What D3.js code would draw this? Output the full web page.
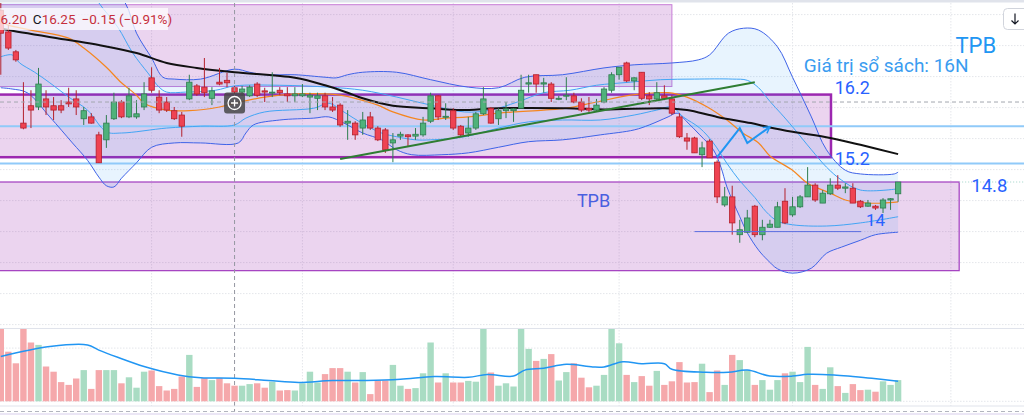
<!DOCTYPE html>
<html>
<head>
<meta charset="utf-8">
<script src="https://cdn.jsdelivr.net/npm/d3@7"></script>
<style>
  html, body { margin: 0; padding: 0; background: #fff; overflow: hidden }
  svg { display: block; font-family: Roboto, 'Noto Sans', sans-serif }
</style>
</head>
<body>
<svg id="chart" width="1024" height="415"></svg>
<script>
// daily candles (index 0 = first visible bar)
const open = [
  17.57, 17.22, 16.90, 15.75, 16.03, 16.01, 16.14, 16.03, 16.03, 16.09,
  16.14, 15.82, 15.85, 15.56, 15.48, 15.82, 16.09, 15.85, 15.85, 16.01,
  16.48, 16.17, 16.09, 15.95, 15.88, 16.14, 16.35, 16.33, 16.15, 16.41,
  16.44, 16.32, 16.25, 16.19, 16.38, 16.27, 16.24, 16.28, 16.22, 16.19,
  16.19, 16.17, 16.15, 16.19, 16.01, 16.04, 15.75, 15.75, 15.67, 15.85,
  15.67, 15.64, 15.43, 15.54, 15.56, 15.54, 15.56, 15.78, 16.19, 15.85,
  15.95, 15.70, 15.59, 15.67, 15.90, 15.99, 15.82, 15.95, 15.95, 15.99,
  16.38, 16.53, 16.38, 16.38, 16.14, 16.19, 16.19, 16.09, 15.99, 15.96,
  16.09, 16.28, 16.53, 16.72, 16.43, 16.57, 16.19, 16.14, 16.19, 16.14,
  15.85, 15.51, 15.51, 15.24, 15.46, 15.12, 14.43, 14.56, 13.95, 13.99,
  14.41, 13.95, 14.07, 14.07, 14.49, 14.27, 14.40, 14.56, 14.75, 14.46,
  14.61, 14.75, 14.70, 14.70, 14.49, 14.41, 14.41, 14.38, 14.51, 14.61
]
const high = [
  17.69, 17.33, 16.93, 16.41, 16.28, 16.64, 16.28, 16.17, 16.12, 16.32,
  16.28, 16.01, 15.91, 15.61, 15.88, 16.24, 16.12, 16.32, 16.12, 16.41,
  16.65, 16.28, 16.17, 16.01, 15.93, 16.53, 16.38, 16.80, 16.33, 16.64,
  16.56, 16.35, 16.35, 16.36, 16.41, 16.32, 16.57, 16.33, 16.33, 16.33,
  16.38, 16.24, 16.24, 16.24, 16.17, 16.07, 15.96, 15.78, 15.93, 15.93,
  15.70, 15.67, 15.59, 15.61, 15.57, 15.67, 15.85, 16.24, 16.20, 16.07,
  15.99, 15.72, 15.85, 15.93, 16.33, 16.01, 15.99, 16.09, 15.99, 16.53,
  16.53, 16.53, 16.48, 16.41, 16.19, 16.49, 16.24, 16.15, 16.17, 16.14,
  16.33, 16.57, 16.65, 16.74, 16.49, 16.57, 16.25, 16.41, 16.36, 16.20,
  15.91, 15.59, 15.53, 15.45, 15.49, 15.15, 14.72, 14.74, 14.19, 14.35,
  14.43, 14.19, 14.19, 14.48, 14.70, 14.56, 14.59, 15.04, 14.78, 14.67,
  14.86, 14.91, 14.78, 14.78, 14.51, 14.51, 14.43, 14.54, 14.54, 14.80
]
const low = [
  16.53, 16.93, 16.74, 15.65, 15.67, 15.96, 15.88, 15.80, 15.91, 16.01,
  15.88, 15.72, 15.74, 15.11, 15.35, 15.80, 15.83, 15.83, 15.82, 15.96,
  16.24, 15.91, 15.93, 15.80, 15.53, 16.12, 16.19, 16.17, 16.04, 16.36,
  16.33, 16.20, 16.19, 16.17, 16.17, 16.09, 16.17, 16.20, 16.09, 16.09,
  16.17, 15.91, 15.96, 15.96, 15.93, 15.69, 15.48, 15.48, 15.56, 15.64,
  15.46, 15.27, 15.12, 15.48, 15.38, 15.48, 15.53, 15.75, 15.80, 15.80,
  15.64, 15.53, 15.53, 15.64, 15.88, 15.74, 15.72, 15.83, 15.77, 15.99,
  16.24, 16.24, 16.24, 16.09, 16.12, 16.12, 16.07, 15.93, 15.93, 15.93,
  16.07, 16.24, 16.45, 16.41, 16.28, 16.12, 16.04, 16.12, 16.12, 15.88,
  15.51, 15.32, 15.27, 15.04, 15.19, 14.46, 14.40, 13.95, 13.82, 13.98,
  13.91, 13.86, 14.06, 14.07, 14.12, 14.24, 14.38, 14.56, 14.48, 14.46,
  14.59, 14.67, 14.62, 14.46, 14.38, 14.40, 14.35, 14.30, 14.35, 14.48
]
const close = [
  17.20, 16.96, 16.77, 15.67, 15.96, 16.38, 16.01, 15.96, 15.96, 16.06,
  16.01, 15.95, 15.75, 15.11, 15.75, 16.09, 15.85, 16.19, 15.90, 16.22,
  16.28, 15.96, 15.96, 15.82, 15.70, 16.41, 16.22, 16.24, 16.27, 16.38,
  16.40, 16.25, 16.30, 16.33, 16.20, 16.25, 16.25, 16.24, 16.19, 16.22,
  16.22, 16.20, 16.19, 16.01, 15.96, 15.72, 15.78, 15.56, 15.80, 15.67,
  15.48, 15.32, 15.48, 15.57, 15.53, 15.57, 15.75, 16.19, 15.85, 15.86,
  15.67, 15.56, 15.67, 15.90, 16.14, 15.75, 15.95, 15.98, 15.98, 16.28,
  16.40, 16.38, 16.40, 16.15, 16.15, 16.20, 16.09, 15.96, 15.96, 16.04,
  16.30, 16.53, 16.65, 16.43, 16.48, 16.15, 16.14, 16.24, 16.15, 15.91,
  15.53, 15.46, 15.27, 15.35, 15.19, 14.56, 14.56, 14.14, 14.03, 14.22,
  13.95, 14.07, 14.12, 14.40, 14.14, 14.40, 14.56, 14.75, 14.51, 14.62,
  14.75, 14.70, 14.72, 14.46, 14.40, 14.46, 14.38, 14.51, 14.53, 14.80
]
// volume, millions of shares
const volume = [
  22, 12.4, 9.5, 19, 14.7, 14.1, 8.7, 7.4, 4.8, 4.1,
  5.7, 7.8, 3.1, 7.8, 7.8, 7.8, 4.5, 6.0, 3.4, 7.4,
  7.7, 3.8, 2.7, 3.1, 6.2, 11.6, 3.6, 5.8, 5.3, 5.8,
  4.5, 3.9, 3.9, 4.3, 4.5, 3.4, 4.9, 2.7, 2.8, 2.7,
  4.5, 7.4, 4.7, 6.8, 8.3, 8.3, 7.4, 4.7, 7.3, 1.8,
  5.2, 5.2, 9.1, 3.9, 3.1, 3.3, 7.0, 14.7, 4.7, 7.0,
  4.7, 4.7, 5.1, 4.9, 20, 7.2, 3.9, 4.5, 3.7, 21,
  13.1, 10.1, 10.6, 11.8, 5.2, 7.3, 9.5, 5.9, 3.5, 3.9,
  6.6, 20, 14.5, 6.6, 4.8, 6.3, 3.9, 7.6, 4.1, 5.0,
  9.8, 4.7, 4.8, 9.4, 2.3, 7.7, 4.1, 11.6, 10.3, 7.8,
  4.1, 5.3, 2.9, 5.3, 7.0, 7.4, 4.8, 13.6, 4.1, 3.1,
  8.5, 3.8, 2.1, 4.3, 2.8, 2.9, 2.4, 5.0, 4.1, 5.3
]

// indicator lines as [bar index, value]
const volumeMa = [
  [0, 11.2], [6.5, 13.7], [11.5, 14.1], [13, 12.8], [15.5, 11.0], [19, 8.7], [23.5, 6.6],
  [26.5, 5.9], [31, 5.75], [35.5, 5.2], [39.5, 4.7], [44, 5.2], [48.5, 5.2], [53, 5.5],
  [57.5, 6.2], [62, 6.0], [64.5, 6.7], [68, 6.3], [69.5, 7.8], [72, 8.25], [75, 9.25],
  [78.5, 8.6], [80, 8.6], [82.5, 9.9], [85, 9.4], [88, 9.4], [89, 8.0], [93.5, 7.25],
  [96.5, 7.25], [99, 7.8], [102, 6.3], [105, 6.3], [107, 6.75], [110.5, 6.6], [113, 6.2],
  [115.5, 5.75], [119, 5.0]
]
const maSlow = [
  [0, 17.28], [1, 17.25], [9, 17.09], [13, 17.01], [18, 16.88], [22, 16.72], [26, 16.64],
  [31, 16.57], [39, 16.48], [43, 16.36], [46, 16.24], [48, 16.15], [52, 16.03], [57, 15.99],
  [61, 15.96], [66, 15.99], [75, 15.99], [80, 15.97], [88, 15.99], [91, 15.96], [95, 15.85],
  [99.5, 15.75], [102, 15.68], [105, 15.61], [110, 15.51], [114, 15.40], [119, 15.25]
]
const maFast = [
  [0, 17.38], [1, 17.33], [4, 17.25], [9, 17.12], [11, 16.96], [14, 16.65], [16, 16.40],
  [18, 16.20], [19, 16.07], [22, 15.96], [25, 15.95], [29, 16.01], [31, 16.07], [35, 16.17],
  [39, 16.22], [43, 16.22], [45, 16.20], [47, 16.15], [50, 16.04], [52, 15.93], [56, 15.80],
  [59, 15.83], [62, 15.85], [66, 15.91], [68, 15.93], [72, 15.96], [75, 15.99], [79, 16.09],
  [83.5, 16.20], [88.5, 16.24], [91, 16.17], [93.7, 16.01], [96.3, 15.80], [98.4, 15.59],
  [100.5, 15.43], [102, 15.22], [105, 14.99], [107, 14.78], [110, 14.62], [112, 14.51],
  [115, 14.46], [117, 14.46], [119, 14.48]
]
const bandUpperOuter = [
  [13, 18.2], [16.5, 17.69], [18, 17.20], [20, 16.80], [21.5, 16.49], [23, 16.46],
  [26.5, 16.46], [31, 16.62], [33, 16.57], [35, 16.53], [39, 16.53], [43, 16.49],
  [44.5, 16.48], [46, 16.53], [48, 16.57], [52.5, 16.57], [57, 16.45], [62, 16.33],
  [66, 16.32], [69.5, 16.49], [74.5, 16.53], [80, 16.64], [84, 16.69], [89, 16.72],
  [92.5, 16.77], [94, 16.85], [96.5, 17.20], [98.5, 17.28], [100.5, 17.25], [103, 16.98],
  [105, 16.49], [107.5, 15.85], [109.5, 15.32], [112, 14.99], [114, 14.93], [118.5, 14.93],
  [119, 14.96]
]
const bandUpperInner = [
  [11, 18.1], [13, 17.69], [15.5, 17.30], [17.5, 16.88], [19.5, 16.56], [21, 16.33],
  [22, 16.25], [24.5, 16.25], [28.5, 16.28], [31, 16.35], [37, 16.36], [43.5, 16.33],
  [48, 16.28], [52.5, 16.17], [57, 16.04], [61.5, 15.93], [65, 15.96], [68.5, 16.09],
  [72, 16.24], [75.5, 16.28], [79, 16.36], [83.5, 16.41], [87.5, 16.45], [92, 16.46],
  [97, 16.46], [99, 16.44], [100.5, 16.32], [102, 16.10], [103.5, 15.90], [105, 15.69],
  [107.5, 15.32], [109.5, 15.04], [111.5, 14.83], [114, 14.67], [119, 14.69]
]
const bandLowerInner = [
  [0, 16.82], [1.5, 16.85], [2.5, 16.72], [4.5, 16.57], [6.5, 16.40], [9, 16.17],
  [11.5, 15.96], [14, 15.61], [16, 15.59], [22, 15.67], [26.5, 15.70], [31, 15.72],
  [32.5, 15.83], [35, 15.93], [41.5, 15.99], [43.5, 16.07], [45.5, 15.93], [48, 15.74],
  [50.5, 15.59], [52.5, 15.53], [55, 15.48], [57, 15.48], [61.5, 15.53], [66, 15.67],
  [70, 15.77], [74.5, 15.80], [79.5, 15.80], [84, 15.88], [87, 15.96], [89, 16.01],
  [90.5, 15.85], [92.7, 15.67], [94.5, 15.43], [96.3, 15.10], [98, 14.82], [100, 14.55],
  [101.5, 14.32], [103, 14.17], [105, 14.11], [109.5, 14.09], [114, 14.14], [119, 14.24]
]
const bandLowerOuter = [
  [0, 16.32], [1.5, 16.30], [3.5, 16.24], [6.5, 15.85], [9.5, 15.43], [11.5, 15.15],
  [13, 14.88], [14, 14.74], [15, 14.72], [16, 14.86], [18, 15.11], [20, 15.36],
  [23, 15.43], [26.5, 15.43], [31.5, 15.43], [32.5, 15.59], [33.5, 15.72], [37, 15.80],
  [41.5, 15.83], [43.5, 15.85], [45.5, 15.75], [48, 15.59], [50.5, 15.48], [52.5, 15.32],
  [54.5, 15.24], [58.5, 15.24], [62, 15.27], [66, 15.36], [70, 15.45], [74.5, 15.48],
  [79.5, 15.56], [84, 15.64], [86, 15.72], [88.5, 15.85], [89.7, 15.91], [91, 15.77],
  [92.7, 15.56], [94.5, 15.32], [95.5, 15.04], [96.3, 14.72], [98, 14.24], [99, 13.98],
  [100.5, 13.70], [101.7, 13.54], [103, 13.40], [105, 13.33], [107.5, 13.41], [109.5, 13.65],
  [111.5, 13.75], [114, 13.86], [116, 13.95], [119, 13.99]
]

// user drawings, in [bar index, price]
const boxes = [
  { from: [-2, 17.66], to: [89, 16.34], border: 1, stroke: '#c77dd6' },
  { from: [-2, 16.21], to: [110.1, 15.20], border: 2.5, stroke: '#9c27b0' },
  { from: [-2, 14.80], to: [127.1, 13.37], border: 1.2, stroke: '#a13bbf' }
]
const levels = [15.70, 15.10]
const trendLine = [[45, 15.17], [100, 16.41]]
const supportLine = [[92, 14.0], [114.1, 14.0]]
const zigzag = [[95, 15.20], [98, 15.67], [99, 15.43], [102, 15.69]]
const labels = [
  { text: 'TPB', at: [126.6, 16.88], size: 22, color: '#2196f3' },
  { text: 'Giá trị sổ sách: 16N', at: [106.5, 16.57], size: 19, color: '#3a9cf0' },
  { text: '16.2', at: [110.6, 16.22], size: 18, color: '#2962ff' },
  { text: '15.2', at: [110.6, 15.07], size: 18, color: '#2962ff' },
  { text: '14.8', at: [128.7, 14.64], size: 18.5, color: '#2962ff' },
  { text: '14', at: [114.75, 14.09], size: 17, color: '#2962ff' },
  { text: 'TPB', at: [76.4, 14.40], size: 18, color: '#4a5fe0' }
]
const gridBars = [20, 40, 60, 82, 105, 126]
const priceGrid = d3.range(12.5, 17.6, 0.5)
const volumeGrid = [0, 13.3]
const crosshair = { bar: 31, price: 16.09 }

const W = 1024
const H = 415
const svg = d3.select('#chart')

const x = d3.scaleLinear().domain([0, 119]).range([0.8, 898.1])
const y = d3.scaleLinear().domain([12.5, 17.5]).range([324.6, 14.6])
const yVol = d3.scaleLinear().domain([0, 18]).range([401.3, 329.3])

const defs = svg.append('defs')
defs.append('clipPath').attr('id', 'clipPrice')
  .append('rect').attr('x', 0).attr('y', 3).attr('width', W).attr('height', 325)
defs.append('clipPath').attr('id', 'clipVol')
  .append('rect').attr('x', 0).attr('y', 329).attr('width', W).attr('height', 73)
defs.append('marker').attr('id', 'arrow')
  .attr('viewBox', '0 0 10 10').attr('refX', 8).attr('refY', 5)
  .attr('markerWidth', 4.5).attr('markerHeight', 4.5).attr('orient', 'auto')
  .append('path').attr('d', 'M1,1 L8,5 L1,9')
  .attr('fill', 'none').attr('stroke', '#2196f3').attr('stroke-width', 1.6)

svg.append('rect').attr('width', W).attr('height', H).attr('fill', '#fff')

// grid
const grid = svg.append('g').attr('stroke', '#e4e6eb').attr('stroke-dasharray', '1.5,1.5')
grid.selectAll('.gx').data(gridBars).join('line')
  .attr('x1', d => x(d)).attr('x2', d => x(d)).attr('y1', 3).attr('y2', 406)
grid.selectAll('.gy').data(priceGrid).join('line')
  .attr('x1', 0).attr('x2', W).attr('y1', d => y(d)).attr('y2', d => y(d))
grid.selectAll('.gv').data(volumeGrid).join('line')
  .attr('x1', 0).attr('x2', W).attr('y1', d => yVol(d)).attr('y2', d => yVol(d))

const price = svg.append('g').attr('clip-path', 'url(#clipPrice)')

// boxes
price.selectAll('.box').data(boxes).join('rect')
  .attr('x', d => x(d.from[0])).attr('y', d => y(d.from[1]))
  .attr('width', d => x(d.to[0]) - x(d.from[0]))
  .attr('height', d => y(d.to[1]) - y(d.from[1]))
  .attr('fill', 'rgba(156,39,176,0.2)')
  .attr('stroke', d => d.stroke).attr('stroke-width', d => d.border)

// band fill
const curve = d3.curveCatmullRom.alpha(0.5)
const line = d3.line().x(d => x(d[0])).y(d => y(d[1])).curve(curve)
const upperPath = line(bandUpperOuter).slice(1)
const lowerPath = line(bandLowerOuter.slice().reverse()).slice(1)
price.append('path')
  .attr('d', `M${x(-2)},-40L${upperPath}L${lowerPath}L${x(-2)},${y(bandLowerOuter[0][1])}Z`)
  .attr('fill', 'rgba(33,150,243,0.1)')

// horizontal levels
price.selectAll('.lvl').data(levels).join('line')
  .attr('x1', 0).attr('x2', W).attr('y1', d => y(d)).attr('y2', d => y(d))
  .attr('stroke', '#90caf9').attr('stroke-width', 2)
price.append('line')
  .attr('x1', x(boxes[2].to[0])).attr('x2', W)
  .attr('y1', y(boxes[2].from[1])).attr('y2', y(boxes[2].from[1]))
  .attr('stroke', '#9fd3c7').attr('stroke-dasharray', '1,2')

// indicator lines
const series = [
  { data: bandUpperOuter, color: '#3f63e8', width: 1 },
  { data: bandLowerOuter, color: '#3f63e8', width: 1 },
  { data: bandUpperInner, color: '#42a5f5', width: 1 },
  { data: bandLowerInner, color: '#42a5f5', width: 1 },
  { data: maFast, color: '#f5861f', width: 1.2 },
  { data: maSlow, color: '#111', width: 2 }
]
price.selectAll('.ind').data(series).join('path')
  .attr('d', d => line(d.data)).attr('fill', 'none')
  .attr('stroke', d => d.color).attr('stroke-width', d => d.width)

// candles
const bars = d3.range(open.length)
const up = i => close[i] >= open[i]
const candle = price.append('g').selectAll('g').data(bars).join('g')
candle.append('line')
  .attr('x1', i => x(i)).attr('x2', i => x(i))
  .attr('y1', i => y(high[i])).attr('y2', i => y(low[i]))
  .attr('stroke', i => up(i) ? '#2f7d4f' : '#b3202c')
candle.append('rect')
  .attr('x', i => x(i) - 2.7).attr('width', 5.4)
  .attr('y', i => y(Math.max(open[i], close[i])))
  .attr('height', i => Math.max(1, Math.abs(y(open[i]) - y(close[i]))))
  .attr('fill', i => up(i) ? '#4fb27b' : '#ef4352')
  .attr('stroke', i => up(i) ? '#2f7d4f' : '#b3202c').attr('stroke-width', 0.8)

// drawings
const straight = d3.line().x(d => x(d[0])).y(d => y(d[1]))
price.append('path').attr('d', straight(trendLine))
  .attr('stroke', '#2e7d32').attr('stroke-width', 2)
price.append('path').attr('d', straight(supportLine))
  .attr('stroke', '#5b6ee1').attr('stroke-width', 1)
price.append('path').attr('d', straight(zigzag)).attr('fill', 'none')
  .attr('stroke', '#2196f3').attr('stroke-width', 2)
  .attr('stroke-linejoin', 'miter').attr('marker-end', 'url(#arrow)')
price.selectAll('.lbl').data(labels).join('text')
  .attr('x', d => x(d.at[0])).attr('y', d => y(d.at[1]))
  .attr('font-size', d => d.size).attr('fill', d => d.color)
  .text(d => d.text)

// crosshair
svg.append('line')
  .attr('x1', x(crosshair.bar)).attr('x2', x(crosshair.bar)).attr('y1', 3).attr('y2', 412)
  .attr('stroke', '#9598a1').attr('stroke-dasharray', '4,3')
price.append('line')
  .attr('x1', 0).attr('x2', W).attr('y1', y(crosshair.price)).attr('y2', y(crosshair.price))
  .attr('stroke', '#a3a6af').attr('stroke-dasharray', '4,3')
const btn = svg.append('g')
  .attr('transform', `translate(${x(crosshair.bar)},${y(crosshair.price) + 1})`)
btn.append('rect').attr('x', -10.5).attr('y', -10.5).attr('width', 21).attr('height', 21)
  .attr('rx', 3).attr('fill', 'rgba(70,70,70,0.85)')
btn.append('circle').attr('r', 6.5).attr('fill', 'none')
  .attr('stroke', '#fff').attr('stroke-width', 1.3)
btn.append('path').attr('d', 'M-3.5,0H3.5M0,-3.5V3.5')
  .attr('stroke', '#fff').attr('stroke-width', 1.3)

// legend
svg.append('rect').attr('x', 0).attr('y', 8).attr('width', 168).attr('height', 22)
  .attr('fill', 'rgba(255,255,255,0.72)')
const legend = svg.append('text').attr('x', 0.5).attr('y', 24)
  .attr('font-size', 13.5).attr('fill', '#c62f3b')
legend.append('tspan').text(d3.format('.2f')(low[crosshair.bar]).slice(1))
legend.append('tspan').attr('dx', 6).attr('fill', '#131722').text('C')
legend.append('tspan').text(d3.format('.2f')(close[crosshair.bar]))
const chg = close[crosshair.bar] - close[crosshair.bar - 1]
legend.append('tspan').attr('dx', 6)
  .text(`${d3.format('.2f')(chg).replace('-', '\u2212')} (${d3.format('.2%')(chg / close[crosshair.bar - 1]).replace('-', '\u2212')})`)

// volume pane
const vol = svg.append('g').attr('clip-path', 'url(#clipVol)')
vol.selectAll('rect').data(bars).join('rect')
  .attr('x', i => x(i) - 3.2).attr('width', 6.4)
  .attr('y', i => yVol(volume[i])).attr('height', i => yVol(0) - yVol(volume[i]))
  .attr('fill', i => up(i) ? '#a9dcc3' : '#f5a8ab')
vol.append('path')
  .attr('d', d3.line().x(d => x(d[0])).y(d => yVol(d[1])).curve(curve)(volumeMa))
  .attr('fill', 'none').attr('stroke', '#2196f3').attr('stroke-width', 1.5)

// frame
svg.append('rect').attr('width', W).attr('height', 2.5).attr('fill', '#e0e3eb')
svg.append('line').attr('x1', 0).attr('x2', W).attr('y1', 328.5).attr('y2', 328.5)
  .attr('stroke', '#e0e3eb')
svg.append('line').attr('x1', 0).attr('x2', W).attr('y1', 406).attr('y2', 406)
  .attr('stroke', '#e0e3eb')
svg.append('line').attr('x1', 0).attr('x2', W).attr('y1', 411.5).attr('y2', 411.5)
  .attr('stroke', '#b2b5be').attr('stroke-dasharray', '4,3')
svg.append('rect').attr('y', 413).attr('width', W).attr('height', 2).attr('fill', '#ebe6f5')

// scroll button, top right
const go = svg.append('g')
go.append('rect').attr('x', 1003.5).attr('y', 8.5).attr('width', 26).attr('height', 21)
  .attr('rx', 4).attr('fill', '#fff').attr('stroke', '#d1d4dc')
go.append('path').attr('d', 'M1015,13.5V24M1011.5,20.5L1015,24L1018.5,20.5')
  .attr('fill', 'none').attr('stroke', '#131722').attr('stroke-width', 1.2)
</script>
</body>
</html>
